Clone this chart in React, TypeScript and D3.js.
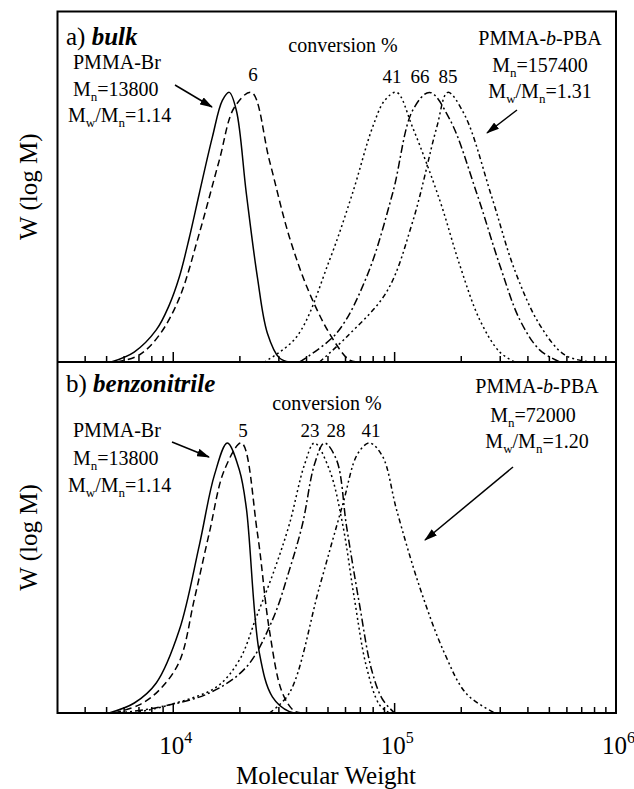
import React, { useEffect, useRef } from 'react';
import * as d3 from 'd3';

type Pt = [number, number];

// [molecular weight, W(log M) relative to peak]
// panel a) bulk
const bulkMacro: Pt[] = [[5240, 0], [6660, 0.037], [8380, 0.119], [9590, 0.211], [10650, 0.315], [11810, 0.46], [13120, 0.626], [15010, 0.833], [16670, 0.97], [17910, 1.0], [19280, 0.933], [21380, 0.626], [23990, 0.315], [26620, 0.107], [30180, 0.015], [33480, 0]];
const bulk6: Pt[] = [[5580, 0], [7020, 0.026], [8650, 0.1], [10650, 0.237], [13120, 0.478], [16140, 0.748], [18870, 0.944], [22540, 1.0], [27180, 0.748], [33480, 0.463], [41220, 0.256], [51880, 0.093], [62560, 0.007], [69460, 0]];
const bulk41: Pt[] = [[25800, 0], [36050, 0.093], [50810, 0.378], [64530, 0.626], [79450, 0.87], [90200, 0.97], [102100, 1.0], [120600, 0.87], [159900, 0.6], [196800, 0.36], [242500, 0.156], [298300, 0.037], [349000, 0]];
const bulk66: Pt[] = [[37170, 0], [54680, 0.107], [74660, 0.315], [97950, 0.626], [120600, 0.933], [143900, 1.0], [177500, 0.9], [234900, 0.626], [298300, 0.36], [368000, 0.156], [453000, 0.044], [558000, 0]];
const bulk85: Pt[] = [[45770, 0], [60700, 0.093], [92000, 0.26], [120600, 0.52], [154900, 0.87], [173800, 1.0], [207500, 0.915], [274900, 0.611], [349000, 0.34], [453000, 0.137], [587000, 0.026], [763000, 0]];

// panel b) benzonitrile
const bnMacro: Pt[] = [[5130, 0], [6670, 0.037], [8380, 0.111], [10650, 0.307], [13120, 0.622], [15340, 0.881], [17550, 1.0], [19890, 0.9], [21380, 0.76], [24500, 0.222], [28040, 0.06], [33480, 0.005], [37170, 0]];
const bn5: Pt[] = [[5410, 0], [7020, 0.03], [8650, 0.085], [10650, 0.19], [12440, 0.42], [14550, 0.667], [17020, 0.9], [20320, 1.0], [23990, 0.667], [27180, 0.307], [31130, 0.074], [35300, 0.007], [39170, 0]];
const bn23: Pt[] = [[6670, 0], [9590, 0.03], [15650, 0.096], [19890, 0.196], [23750, 0.356], [28630, 0.53], [33480, 0.7], [39170, 0.92], [43420, 1.0], [50810, 0.9], [58200, 0.7], [65900, 0.42], [74660, 0.17], [85490, 0.03], [94900, 0]];
const bn28: Pt[] = [[5700, 0], [8650, 0.022], [14550, 0.074], [21380, 0.17], [28040, 0.344], [33480, 0.53], [38370, 0.7], [43420, 0.92], [48210, 1.0], [54680, 0.937], [60700, 0.689], [69460, 0.4], [78700, 0.16], [88260, 0.05], [100000, 0]];
const bn41: Pt[] = [[27180, 0], [33480, 0.074], [45770, 0.467], [58200, 0.77], [68100, 0.96], [77080, 1.0], [88260, 0.95], [102100, 0.752], [129700, 0.467], [168300, 0.22], [211700, 0.07], [283400, 0]];

const xTickLabels = [1e4, 1e5, 1e6];

const SOLID = null;
const DASHED = '7,4';
const DOTTED = '2,3';
const DASHDOT = '8,3,2,3';
const DASHDOTDOT = '5,3,2,3,2,3';

const FONT = '"Liberation Serif", "Times New Roman", Times, serif';

const App = () => {
  const svgRef = useRef<SVGSVGElement>(null);

  useEffect(() => {
    const svg = d3.select(svgRef.current);
    svg.selectAll('*').remove();

    const left = 57.5, right = 616;
    const panels = [
      { top: 11.5, bottom: 362, curves: [[bulkMacro, SOLID], [bulk6, DASHED], [bulk41, DOTTED], [bulk66, DASHDOT], [bulk85, DASHDOTDOT]] },
      { top: 362, bottom: 713, curves: [[bnMacro, SOLID], [bn5, DASHED], [bn23, DOTTED], [bn28, DASHDOT], [bn41, DASHDOTDOT]] },
    ];

    const x = d3.scaleLog().domain([3000, 1e6]).range([left, right]);

    const defs = svg.append('defs');
    defs.append('marker')
      .attr('id', 'arrowhead')
      .attr('viewBox', '0 0 13 8')
      .attr('refX', 12)
      .attr('refY', 4)
      .attr('markerWidth', 13)
      .attr('markerHeight', 8)
      .attr('markerUnits', 'userSpaceOnUse')
      .attr('orient', 'auto')
      .append('path')
      .attr('d', 'M0,0L13,4L0,8z')
      .attr('fill', '#000');

    panels.forEach((p, i) => {
      const y = d3.scaleLinear().domain([0, 1.3]).range([p.bottom, p.top]);
      const line = d3.line<Pt>()
        .x(d => x(d[0]))
        .y(d => y(d[1]))
        .curve(d3.curveCatmullRom.alpha(0.5));

      defs.append('clipPath').attr('id', `clip${i}`)
        .append('rect')
        .attr('x', left).attr('y', p.top)
        .attr('width', right - left).attr('height', p.bottom - p.top);

      const g = svg.append('g').attr('clip-path', `url(#clip${i})`);
      p.curves.forEach(([data, dash]) => {
        g.append('path')
          .attr('d', line(data as Pt[]))
          .attr('fill', 'none')
          .attr('stroke', '#000')
          .attr('stroke-width', 1.5)
          .attr('stroke-dasharray', dash as string | null);
      });

      // inward ticks on the bottom axis
      x.ticks().filter(t => t > 3000 && t < 1e6).forEach(t => {
        const major = Math.abs(Math.log10(t) - Math.round(Math.log10(t))) < 1e-9;
        svg.append('line')
          .attr('x1', x(t)).attr('x2', x(t))
          .attr('y1', p.bottom).attr('y2', p.bottom - (major ? 10 : 6))
          .attr('stroke', '#000')
          .attr('stroke-width', 1.5);
      });

      // y label
      svg.append('text')
        .attr('transform', `translate(37,${(p.top + p.bottom) / 2}) rotate(-90)`)
        .attr('text-anchor', 'middle')
        .attr('font-family', FONT)
        .attr('font-size', 25)
        .text('W (log M)');
    });

    // frame
    svg.append('rect')
      .attr('x', left).attr('y', 11.5)
      .attr('width', right - left).attr('height', 713 - 11.5)
      .attr('fill', 'none').attr('stroke', '#000').attr('stroke-width', 2);
    svg.append('line')
      .attr('x1', left).attr('x2', right).attr('y1', 362).attr('y2', 362)
      .attr('stroke', '#000').attr('stroke-width', 2);

    // x tick labels
    xTickLabels.forEach(t => {
      const g = svg.append('text')
        .attr('x', x(t) - 14)
        .attr('y', 754)
        .attr('font-family', FONT)
        .attr('font-size', 25);
      g.append('tspan').text('10');
      g.append('tspan').attr('dy', -11).attr('font-size', 16).text(String(Math.round(Math.log10(t))));
    });

    svg.append('text')
      .attr('x', 326).attr('y', 784)
      .attr('text-anchor', 'middle')
      .attr('font-family', FONT)
      .attr('font-size', 25)
      .text('Molecular Weight');

    const txt = (xx: number, yy: number, anchor = 'start', size = 20) =>
      svg.append('text')
        .attr('x', xx).attr('y', yy)
        .attr('text-anchor', anchor)
        .attr('font-family', FONT)
        .attr('font-size', size);

    const mn = (xx: number, yy: number, val: string, anchor = 'start') => {
      const t = txt(xx, yy, anchor);
      t.append('tspan').text('M');
      t.append('tspan').attr('dy', 5).attr('font-size', 13).text('n');
      t.append('tspan').attr('dy', -5).text('=' + val);
    };
    const mwmn = (xx: number, yy: number, val: string, anchor = 'start') => {
      const t = txt(xx, yy, anchor);
      t.append('tspan').text('M');
      t.append('tspan').attr('dy', 5).attr('font-size', 13).text('w');
      t.append('tspan').attr('dy', -5).text('/M');
      t.append('tspan').attr('dy', 5).attr('font-size', 13).text('n');
      t.append('tspan').attr('dy', -5).text('=' + val);
    };
    const blockTitle = (xx: number, yy: number) => {
      const t = txt(xx, yy, 'middle');
      t.append('tspan').text('PMMA-');
      t.append('tspan').attr('font-style', 'italic').text('b');
      t.append('tspan').text('-PBA');
    };
    const arrow = (x1: number, y1: number, x2: number, y2: number) =>
      svg.append('line')
        .attr('x1', x1).attr('y1', y1).attr('x2', x2).attr('y2', y2)
        .attr('stroke', '#000').attr('stroke-width', 1.5)
        .attr('marker-end', 'url(#arrowhead)');

    // panel a
    const a = txt(66, 45, 'start', 25);
    a.append('tspan').text('a)  ');
    a.append('tspan').attr('font-weight', 'bold').attr('font-style', 'italic').text('bulk');
    txt(73, 69).text('PMMA-Br');
    mn(73, 96, '13800');
    mwmn(68, 122, '1.14');
    arrow(175, 85, 212, 107);
    txt(343, 52, 'middle').text('conversion %');
    txt(253, 81, 'middle', 19).text('6');
    txt(392, 83, 'middle', 19).text('41');
    txt(420, 83, 'middle', 19).text('66');
    txt(448, 83, 'middle', 19).text('85');
    blockTitle(540, 45);
    mn(540, 72, '157400', 'middle');
    mwmn(540, 98, '1.31', 'middle');
    arrow(517, 110, 487, 133);

    // panel b
    const b = txt(66, 392, 'start', 25);
    b.append('tspan').text('b) ');
    b.append('tspan').attr('font-weight', 'bold').attr('font-style', 'italic').text('benzonitrile');
    txt(327, 410, 'middle').text('conversion %');
    txt(73, 437).text('PMMA-Br');
    mn(73, 465, '13800');
    mwmn(68, 492, '1.14');
    arrow(172, 442, 209, 457);
    txt(243, 437, 'middle', 19).text('5');
    txt(310, 437, 'middle', 19).text('23');
    txt(336, 437, 'middle', 19).text('28');
    txt(371, 437, 'middle', 19).text('41');
    blockTitle(537, 393);
    mn(533, 422, '72000', 'middle');
    mwmn(537, 448, '1.20', 'middle');
    arrow(513, 467, 425, 540);
  }, []);

  return (
    <svg ref={svgRef} width={634} height={789} style={{ position: 'absolute', left: 0, top: 0, background: '#fff' }}></svg>
  );
};

export default App;
